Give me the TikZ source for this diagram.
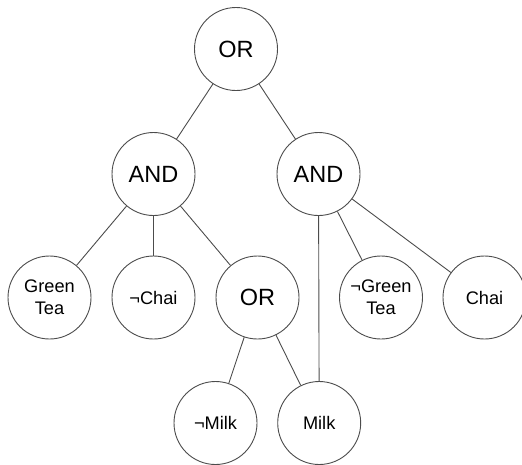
\documentclass[tikz,border=0pt]{standalone}
\usepackage{fontspec}
\setmainfont{Liberation Sans}
\begin{document}
\begin{tikzpicture}[x=1pt,y=-1pt,
  gate/.style={circle,draw=black!70,line width=0.9pt,minimum size=83pt,inner sep=0pt,fill=white,font=\fontsize{23.5}{27}\selectfont},
  leaf/.style={circle,draw=black!70,line width=0.9pt,minimum size=83pt,inner sep=0pt,fill=white,align=center,font=\fontsize{18.2}{22}\selectfont},
  edge/.style={draw=black!70,line width=0.9pt}]
\useasboundingbox (0,0) rectangle (522,464);
\node[gate] (or1) at (236,49) {OR};
\node[gate] (andl) at (153.5,174) {AND};
\node[gate] (andr) at (318.5,174) {AND};
\node[leaf] (gt) at (49.5,297.5) {Green\\Tea};
\node[leaf] (nchai) at (153.5,297.5) {¬Chai};
\node[gate] (or2) at (257.5,297.5) {OR};
\node[leaf] (ngt) at (381,297.5) {¬Green\\Tea};
\node[leaf] (chai) at (484.5,297.5) {Chai};
\node[leaf] (nmilk) at (215.5,423) {¬Milk};
\node[leaf] (milk) at (319.2,423) {Milk};
\path[edge] (or1) -- (andl);
\path[edge] (or1) -- (andr);
\path[edge] (andl) -- (gt);
\path[edge] (andl) -- (nchai);
\path[edge] (andl) -- (or2);
\path[edge] (andr) -- (milk);
\path[edge] (andr) -- (ngt);
\path[edge] (andr) -- (chai);
\path[edge] (or2) -- (nmilk);
\path[edge] (or2) -- (milk);
\end{tikzpicture}
\end{document}
